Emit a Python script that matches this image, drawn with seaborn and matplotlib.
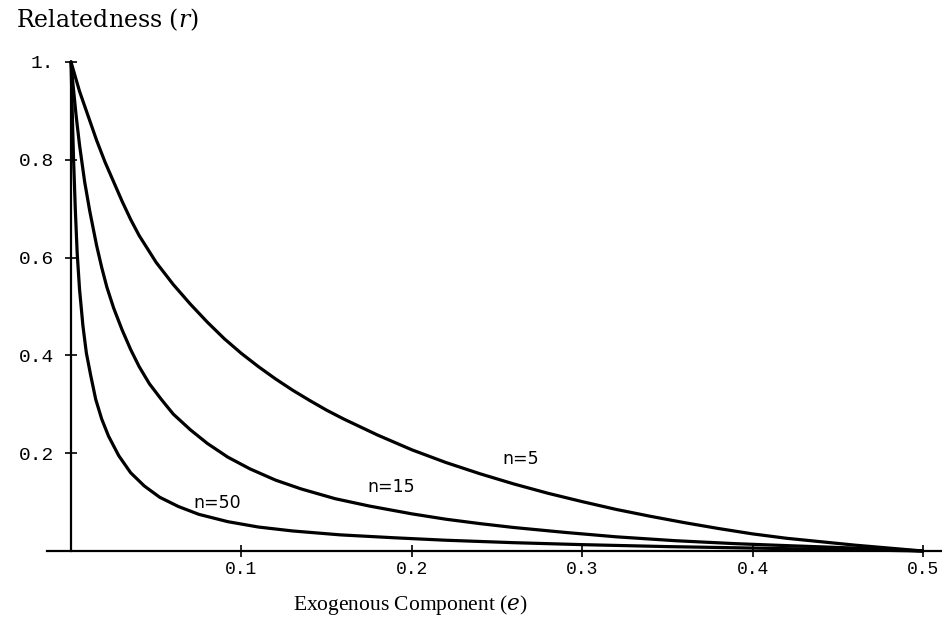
import matplotlib
matplotlib.use("Agg")
import matplotlib.pyplot as plt
import seaborn as sns
import pandas as pd

# ---- data ----
e_n5 = [0.0, 0.0025, 0.005, 0.0075, 0.01, 0.015, 0.02, 0.025, 0.03, 0.035, 0.04,
        0.05, 0.06, 0.07, 0.08, 0.09, 0.10, 0.11, 0.12, 0.13, 0.14, 0.15, 0.16,
        0.18, 0.20, 0.22, 0.24, 0.26, 0.28, 0.30, 0.32, 0.34, 0.36, 0.38, 0.40,
        0.42, 0.44, 0.46, 0.48, 0.50]
r_n5 = [1.0, 0.97, 0.94, 0.915, 0.89, 0.84, 0.795, 0.755, 0.715, 0.678, 0.645,
        0.59, 0.545, 0.505, 0.468, 0.434, 0.404, 0.377, 0.352, 0.329, 0.308,
        0.288, 0.270, 0.237, 0.207, 0.181, 0.158, 0.137, 0.118, 0.101, 0.085,
        0.071, 0.058, 0.046, 0.035, 0.026, 0.019, 0.012, 0.006, 0.0]

e_n15 = [0.0, 0.001, 0.002, 0.003, 0.005, 0.008, 0.011, 0.015, 0.018, 0.021,
         0.025, 0.03, 0.035, 0.04, 0.046, 0.053, 0.06, 0.07, 0.08, 0.092, 0.105,
         0.12, 0.135, 0.155, 0.175, 0.20, 0.22, 0.24, 0.26, 0.29, 0.32, 0.355,
         0.39, 0.42, 0.46, 0.50]
r_n15 = [1.0, 0.96, 0.925, 0.89, 0.83, 0.755, 0.695, 0.625, 0.58, 0.54, 0.497,
         0.452, 0.412, 0.377, 0.342, 0.31, 0.28, 0.248, 0.22, 0.192, 0.168,
         0.145, 0.127, 0.107, 0.092, 0.076, 0.065, 0.056, 0.048, 0.038, 0.029,
         0.021, 0.015, 0.011, 0.006, 0.0]

e_n50 = [0.0, 0.0005, 0.001, 0.0015, 0.0025, 0.0036, 0.005, 0.007, 0.009, 0.0115,
         0.0145, 0.018, 0.022, 0.028, 0.035, 0.043, 0.052, 0.063, 0.075, 0.092,
         0.11, 0.13, 0.158, 0.19, 0.22, 0.26, 0.30, 0.35, 0.40, 0.45, 0.50]
r_n50 = [1.0, 0.93, 0.86, 0.80, 0.70, 0.61, 0.535, 0.46, 0.405, 0.36, 0.31, 0.27,
         0.235, 0.195, 0.16, 0.133, 0.11, 0.091, 0.075, 0.06, 0.049, 0.041,
         0.033, 0.027, 0.022, 0.017, 0.013, 0.009, 0.006, 0.003, 0.0]

curve_labels = ["n=5", "n=15", "n=50"]
label_e = [0.264, 0.188, 0.086]
label_r = [0.188, 0.130, 0.098]

x_ticks = [0.1, 0.2, 0.3, 0.4, 0.5]
x_tick_labels = ["0.1", "0.2", "0.3", "0.4", "0.5"]
y_ticks = [0.2, 0.4, 0.6, 0.8, 1.0]
y_tick_labels = ["0.2", "0.4", "0.6", "0.8", "1."]

x_title = "Exogenous Component ($\\mathit{e}$)"
y_title = "Relatedness ($\\mathit{r}$)"

# ---- build ----
sns.set_theme(style="white")
plt.rcParams["font.family"] = ["DejaVu Sans"]
plt.rcParams["mathtext.fontset"] = "dejavuserif"

W, H = 942, 635
fig = plt.figure(figsize=(W / 100, H / 100), dpi=100)
left_px, right_px, bottom_px, top_px = 47, 942, 551, 62
ax = fig.add_axes([left_px / W, 1 - bottom_px / H,
                   (right_px - left_px) / W, (bottom_px - top_px) / H])

frames = []
for lab, ee, rr in zip(curve_labels, [e_n5, e_n15, e_n50], [r_n5, r_n15, r_n50]):
    frames.append(pd.DataFrame({"e": ee, "r": rr, "curve": lab}))
df = pd.concat(frames, ignore_index=True)

for lab in curve_labels:
    sub = df[df["curve"] == lab]
    sns.lineplot(data=sub, x="e", y="r", ax=ax, color="black", linewidth=2.3,
                 estimator=None, sort=False, legend=False, clip_on=False)

ax.set_xlim(-0.0141, 0.5112)
ax.set_ylim(0, 1.0)

ax.spines["left"].set_position(("data", 0))
ax.spines["bottom"].set_position(("data", 0))
ax.spines["top"].set_visible(False)
ax.spines["right"].set_visible(False)
for s in ("left", "bottom"):
    ax.spines[s].set_color("black")
    ax.spines[s].set_linewidth(1.6)

ax.set_xticks(x_ticks)
ax.set_xticklabels(x_tick_labels)
ax.set_yticks(y_ticks)
ax.set_yticklabels(y_tick_labels)
ax.tick_params(axis="both", which="major", bottom=True, left=True,
               direction="inout", length=9, width=1.2, color="black",
               labelcolor="black")
ax.tick_params(axis="x", labelsize=13, pad=3)
ax.tick_params(axis="y", labelsize=14, pad=8)
for t in ax.get_xticklabels() + ax.get_yticklabels():
    t.set_family(["Liberation Mono", "DejaVu Sans Mono"])
ax.set_xlabel("")
ax.set_ylabel("")
ax.grid(False)
ax.set_facecolor("white")

for lab, xe, yr in zip(curve_labels, label_e, label_r):
    ax.text(xe, yr, lab, ha="center", va="center", fontsize=12.5,
            family=["DejaVu Sans"], color="black")

fig.text(16 / W, 1 - 20 / H, y_title, ha="left", va="center",
         fontsize=17, family=["DejaVu Serif"], color="black")
fig.text(410 / W, 1 - 605 / H, x_title, ha="center", va="center",
         fontsize=15.5, family=["Liberation Serif", "DejaVu Serif"], color="black")

fig.savefig("out.png", dpi=100, facecolor="white")
